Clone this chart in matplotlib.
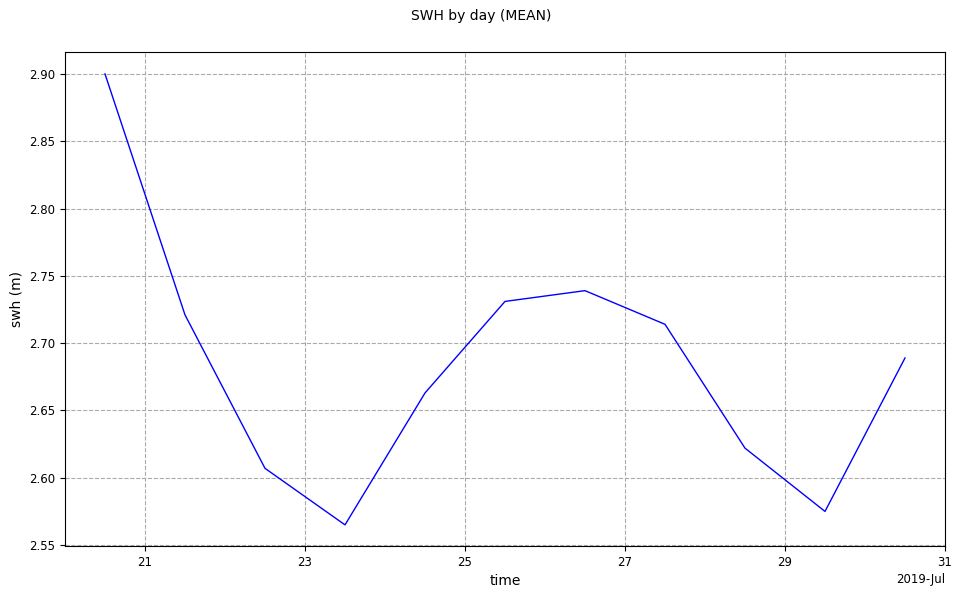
import matplotlib
matplotlib.use('Agg')

import numpy as np
import pandas as pd
import matplotlib.pyplot as plt
import matplotlib.dates as mdates

# daily means, plotted at noon of each day
days = pd.date_range('2019-07-20 12:00', periods=11, freq='D')
swh = [2.900, 2.721, 2.607, 2.565, 2.663, 2.731, 2.739, 2.714, 2.622, 2.575, 2.689]

fig = plt.figure(figsize=(9.62, 5.99), dpi=100)
ax = fig.add_axes([65/962, 1 - 546/599, 880/962, 494/599])

ax.plot(days, swh, color='blue', linewidth=1)

ax.set_xlim(pd.Timestamp('2019-07-20'), pd.Timestamp('2019-07-31'))
ax.set_ylim(2.5493, 2.9163)

loc = mdates.DayLocator(bymonthday=[21, 23, 25, 27, 29, 31])
ax.xaxis.set_major_locator(loc)
ax.xaxis.set_major_formatter(mdates.ConciseDateFormatter(loc))
ax.yaxis.set_major_locator(matplotlib.ticker.MultipleLocator(0.05))
ax.yaxis.set_major_formatter(matplotlib.ticker.FormatStrFormatter('%.2f'))
ax.tick_params(labelsize=8.5)
ax.xaxis.get_offset_text().set_fontsize(8.5)

ax.grid(True, linestyle='--', color='#aaaaaa', linewidth=0.8)
ax.set_xlabel('time', fontsize=10)
ax.set_ylabel('swh (m)', fontsize=10)
fig.suptitle('SWH by day (MEAN)', fontsize=10, y=0.985)

fig.savefig('out.png', dpi=100)
